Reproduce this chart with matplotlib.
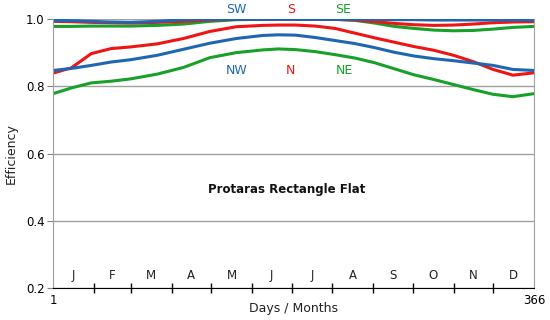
import numpy as np
import matplotlib.pyplot as plt

days = [1, 15, 30, 45, 60, 80, 100, 120, 140, 160, 172, 185, 200, 215,
        230, 245, 260, 275, 290, 305, 320, 335, 350, 366]

sw = [0.996, 0.995, 0.993, 0.991, 0.990, 0.993, 0.998, 0.999, 0.999, 0.999, 0.999, 0.999, 0.999, 0.999,
      0.999, 0.999, 0.998, 0.998, 0.997, 0.997, 0.997, 0.997, 0.997, 0.997]
s = [0.993, 0.992, 0.990, 0.989, 0.988, 0.990, 0.993, 0.997, 0.999, 0.999, 0.999, 0.999, 0.999, 0.999,
     0.997, 0.992, 0.987, 0.983, 0.981, 0.982, 0.985, 0.989, 0.991, 0.992]
se = [0.978, 0.978, 0.979, 0.979, 0.979, 0.981, 0.985, 0.993, 0.998, 0.999, 0.999, 0.999, 0.999, 0.999,
      0.996, 0.988, 0.978, 0.972, 0.967, 0.965, 0.966, 0.970, 0.975, 0.978]
nw = [0.847, 0.853, 0.862, 0.872, 0.879, 0.892, 0.910, 0.928, 0.942, 0.951, 0.953, 0.952, 0.945, 0.936,
      0.927, 0.915, 0.901, 0.890, 0.882, 0.876, 0.869, 0.862, 0.850, 0.847]
n = [0.839, 0.855, 0.897, 0.912, 0.917, 0.926, 0.942, 0.963, 0.977, 0.981, 0.982, 0.982, 0.979, 0.972,
     0.958, 0.944, 0.931, 0.918, 0.907, 0.892, 0.873, 0.850, 0.833, 0.840]
ne = [0.778, 0.795, 0.810, 0.815, 0.822, 0.836, 0.856, 0.885, 0.900, 0.908, 0.911, 0.909, 0.903, 0.894,
      0.884, 0.870, 0.852, 0.834, 0.820, 0.805, 0.790, 0.776, 0.769, 0.778]

months = ['J', 'F', 'M', 'A', 'M', 'J', 'J', 'A', 'S', 'O', 'N', 'D']
month_start = [1, 32, 60, 91, 121, 152, 182, 213, 244, 274, 305, 335, 366]

blue = '#1f66b3'
red = '#f01414'
green = '#17a02a'

fig = plt.figure(figsize=(5.5, 3.2), dpi=100)
ax = fig.add_axes([0.0964, 0.1, 0.8745, 0.8406])

ax.plot(days, ne, color=green, lw=2.2)
ax.plot(days, n, color=red, lw=2.2)
ax.plot(days, nw, color=blue, lw=2.2)
ax.plot(days, se, color=green, lw=2.2)
ax.plot(days, s, color=red, lw=2.2)
ax.plot(days, sw, color=blue, lw=2.2)

ax.set_xlim(1, 366)
ax.set_ylim(0.2, 1.0)
ax.set_yticks([0.2, 0.4, 0.6, 0.8, 1.0])
ax.set_yticklabels(['0.2', '0.4', '0.6', '0.8', '1.0'], fontsize=8.5)
ax.yaxis.grid(True, color='#a0a0a0', lw=1)
ax.set_axisbelow(True)
ax.tick_params(axis='y', length=4, color='#808080', pad=2)

ax.set_xticks([1, 366])
ax.set_xticklabels(['1', '366'], fontsize=8.5)
ax.tick_params(axis='x', which='major', length=0, pad=4)
ax.set_xticks(month_start[1:-1], minor=True)
ax.tick_params(axis='x', which='minor', direction='inout', length=7, width=1, color='black')

for sp in ['left', 'right']:
    ax.spines[sp].set_color('#a0a0a0')
ax.spines['top'].set_visible(False)
ax.spines['bottom'].set_color('black')

for i, m in enumerate(months):
    mid = (month_start[i] + month_start[i + 1]) / 2
    ax.text(mid, 0.218, m, ha='center', va='bottom', fontsize=8.5, color='#222222')

ax.text(140, 1.027, 'SW', color=blue, ha='center', va='center', fontsize=9, clip_on=False)
ax.text(182, 1.027, 'S', color=red, ha='center', va='center', fontsize=9, clip_on=False)
ax.text(221, 1.027, 'SE', color=green, ha='center', va='center', fontsize=9, clip_on=False)
ax.text(140, 0.848, 'NW', color=blue, ha='center', va='center', fontsize=9)
ax.text(181, 0.848, 'N', color=red, ha='center', va='center', fontsize=9)
ax.text(222, 0.848, 'NE', color=green, ha='center', va='center', fontsize=9)

ax.text(178, 0.494, 'Protaras Rectangle Flat', ha='center', va='center',
        fontsize=8.5, fontweight='bold', color='#111111')

ax.set_xlabel('Days / Months', fontsize=9, color='#222222', labelpad=-3)
ax.set_ylabel('Efficiency', fontsize=9, color='#222222', labelpad=6)

fig.savefig('out.png', dpi=100)
